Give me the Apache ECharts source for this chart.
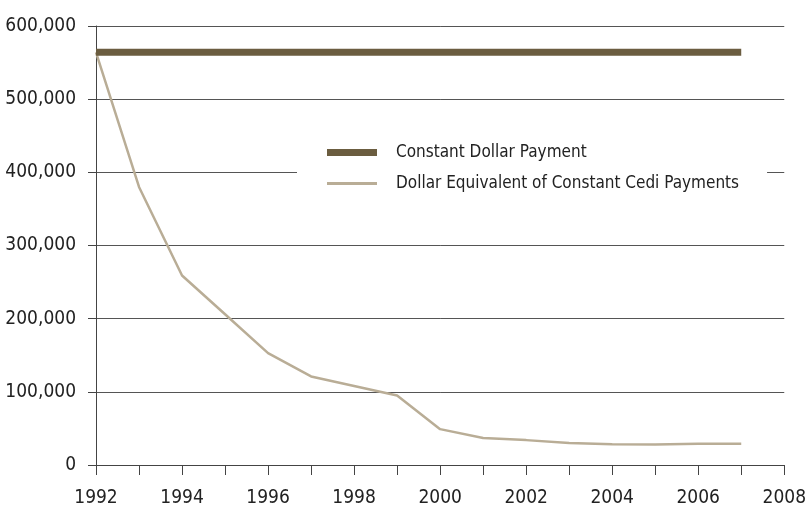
<!DOCTYPE html>
<html>
<head>
<meta charset="utf-8">
<script src="https://cdn.jsdelivr.net/npm/echarts@6/dist/echarts.min.js"></script>
<style>
  html, body { margin: 0; padding: 0; background: #fff; }
  #chart { width: 809px; height: 511px; }
</style>
</head>
<body>
<div id="chart"></div>
<script>
const years = [1992, 1993, 1994, 1995, 1996, 1997, 1998, 1999, 2000, 2001, 2002, 2003, 2004, 2005, 2006, 2007]
const constantDollar = [564000, 564000, 564000, 564000, 564000, 564000, 564000, 564000, 564000, 564000, 564000, 564000, 564000, 564000, 564000, 564000]
const cediEquivalent = [564000, 380000, 259000, 206000, 153000, 121000, 108000, 95000, 49000, 37000, 34000, 30000, 28500, 28000, 29000, 29000]
const seriesNames = ['Constant Dollar Payment', 'Dollar Equivalent of Constant Cedi Payments']

const font = "'Liberation Sans Narrow', 'DejaVu Sans Condensed', sans-serif"

const chart = echarts.init(document.getElementById('chart'))

chart.setOption({
  animation: false,
  textStyle: { fontFamily: font },
  grid: {
    left: 96,
    right: 21,
    top: 26,
    bottom: 46
  },
  legend: {
    orient: 'vertical',
    left: 297,
    top: 138,
    padding: [6, 28, 6, 30],
    itemGap: 14,
    itemWidth: 50,
    itemHeight: 14,
    backgroundColor: '#fff',
    textStyle: { fontSize: 17, color: '#222', padding: [0, 0, 0, 14] },
    data: [
      // thick bar and thin line, kept to aspect inside the 50x14 box
      { name: seriesNames[0], icon: 'path://M0,0H50V7H0Z' },
      { name: seriesNames[1], icon: 'path://M0,0H50V3H0Z' }
    ]
  },
  xAxis: {
    type: 'value',
    min: 1992,
    max: 2008,
    interval: 1,
    axisLine: { show: true, lineStyle: { color: '#444', width: 1 } },
    axisTick: { show: true, inside: false, length: 10, lineStyle: { color: '#444' } },
    splitLine: { show: false },
    axisLabel: {
      fontSize: 19,
      color: '#222',
      margin: 24,
      formatter: v => (v % 2 === 0 ? String(v) : '')
    }
  },
  yAxis: {
    type: 'value',
    min: 0,
    max: 600000,
    interval: 100000,
    axisLine: { show: true, lineStyle: { color: '#444', width: 1 } },
    axisTick: { show: true, length: 8, lineStyle: { color: '#444' } },
    splitLine: { show: true, lineStyle: { color: '#555', width: 1 } },
    axisLabel: {
      fontSize: 19,
      color: '#222',
      margin: 20,
      formatter: v => v.toLocaleString('en-US')
    }
  },
  series: [
    {
      name: seriesNames[0],
      type: 'line',
      data: years.map((y, i) => [y, constantDollar[i]]),
      symbol: 'none',
      lineStyle: { color: '#6b5d40', width: 7, cap: 'butt' },
      itemStyle: { color: '#6b5d40' },
      z: 3
    },
    {
      name: seriesNames[1],
      type: 'line',
      data: years.map((y, i) => [y, cediEquivalent[i]]),
      symbol: 'none',
      lineStyle: { color: '#b9ad96', width: 2.5 },
      itemStyle: { color: '#b9ad96' },
      z: 2
    }
  ]
})
</script>
</body>
</html>
